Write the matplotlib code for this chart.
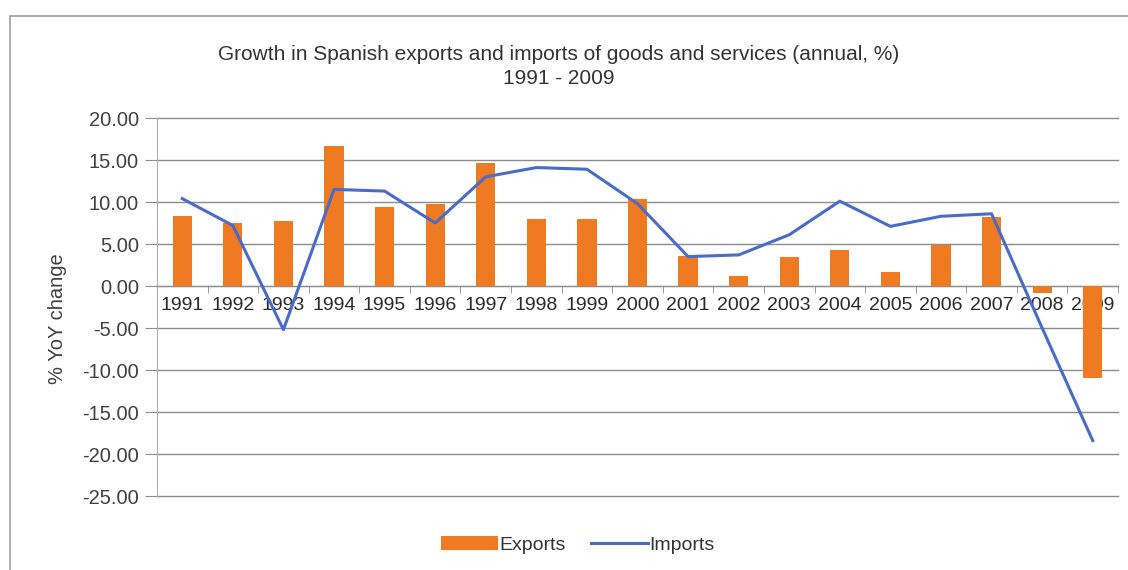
import matplotlib.pyplot as plt
import numpy as np
from matplotlib.patches import Rectangle, Patch
from matplotlib.lines import Line2D

plt.rcParams['font.family'] = ['Liberation Sans', 'DejaVu Sans']

years = [str(y) for y in range(1991, 2010)]
exports = [8.3, 7.5, 7.7, 16.7, 9.4, 9.8, 14.6, 8.0, 8.0, 10.4,
           3.6, 1.2, 3.5, 4.3, 1.7, 4.9, 8.2, -0.8, -11.0]
imports = [10.4, 7.2, -5.2, 11.5, 11.3, 7.5, 13.0, 14.1, 13.9, 9.8,
           3.5, 3.7, 6.1, 10.1, 7.1, 8.3, 8.6, -5.0, -18.4]
yticks = np.arange(-25, 21, 5)

bar_color = '#F07A22'
line_color = '#4A6CC8'
grid_color = '#8C8C8C'
text_color = '#404040'

fig = plt.figure(figsize=(11.28, 5.70), dpi=100)

# chart frame
fig.patches.append(Rectangle((10 / 1128, -0.1), 1.2, 1 - 16 / 570 + 0.1,
                             transform=fig.transFigure, fill=False,
                             edgecolor='#A0A0A0', linewidth=1.2))

ax = fig.add_axes([157 / 1128, 1 - 496 / 570, (1118 - 157) / 1128, (496 - 118) / 570])
x = np.arange(len(years))

ax.bar(x, exports, width=0.38, color=bar_color, zorder=3)
ax.plot(x, imports, color=line_color, linewidth=2.2, zorder=4)

ax.set_xlim(-0.5, len(years) - 0.5)
ax.set_ylim(-25, 20)
ax.set_yticks(yticks)
ax.set_yticklabels([f'{v:.2f}' for v in yticks])
ax.yaxis.grid(True, color=grid_color, linewidth=1.0, zorder=1)
for gl in ax.get_ygridlines():
    gl.set_clip_on(False)
ax.set_axisbelow(True)

# category axis sits on the zero line
for side in ['top', 'right']:
    ax.spines[side].set_visible(False)
ax.spines['left'].set_color('#B0B0B0')
ax.spines['bottom'].set_position(('data', 0))
ax.spines['bottom'].set_color(grid_color)
ax.set_xticks(x)
ax.set_xticklabels(years)
ax.set_xticks(np.arange(-0.5, len(years), 1), minor=True)
ax.tick_params(axis='x', which='major', length=0, pad=8, labelsize=14, labelcolor='#2A2A2A')
ax.tick_params(axis='x', which='minor', length=5, color=grid_color, direction='out')
ax.tick_params(axis='y', length=9, color=grid_color, pad=4, labelsize=14.5, labelcolor=text_color)

ax.set_ylabel('% YoY change', fontsize=14.5, color=text_color)
ax.yaxis.set_label_coords(-90 / 961, 0.47)

fig.text(559 / 1128, 1 - 55 / 570,
         'Growth in Spanish exports and imports of goods and services (annual, %)',
         ha='center', va='center', fontsize=15, color='#333333')
fig.text(559 / 1128, 1 - 78 / 570, '1991 - 2009',
         ha='center', va='center', fontsize=15, color='#333333')

handles = [Patch(facecolor=bar_color, edgecolor='none'),
           Line2D([0], [0], color=line_color, linewidth=2.2)]
fig.legend(handles, ['Exports', 'Imports'], loc='center', bbox_to_anchor=(578 / 1128, 1 - 545 / 570),
           ncol=2, frameon=False, fontsize=14, handlelength=2.9, handletextpad=0.1,
           columnspacing=1.3, labelcolor='#333333')

fig.savefig('out.png', dpi=100)
